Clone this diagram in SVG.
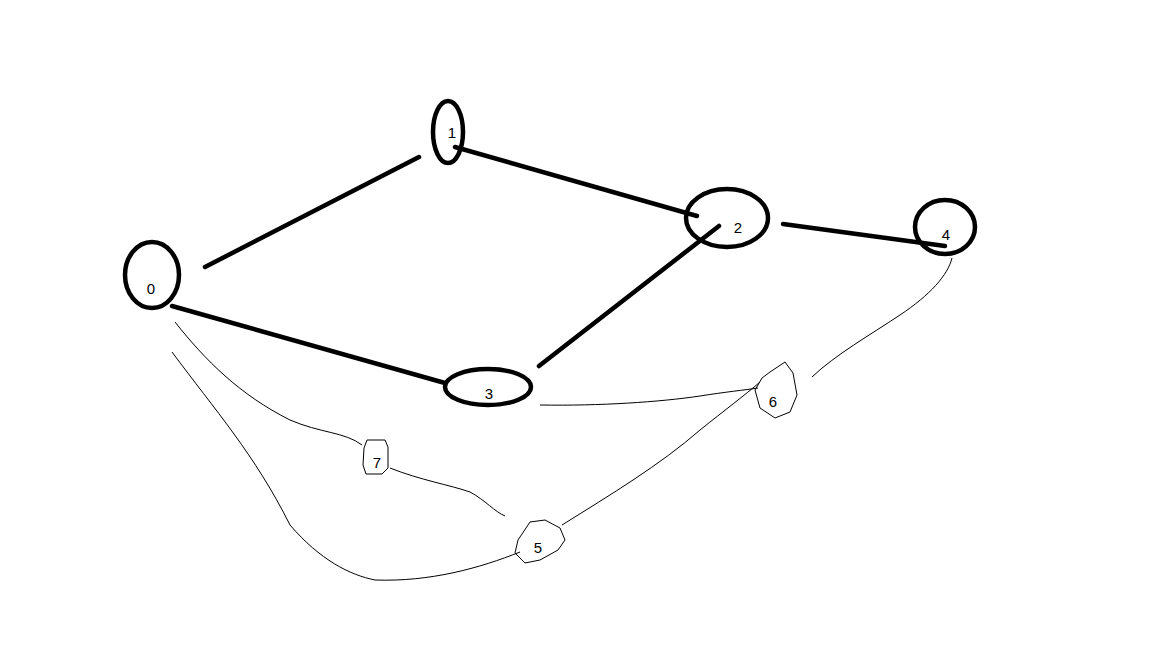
<svg xmlns="http://www.w3.org/2000/svg" width="1152" height="648" viewBox="0 0 1152 648">
<style>
.bold{fill:none;stroke:#000;stroke-width:4.5;stroke-linecap:round}
.thin{fill:none;stroke:#000;stroke-width:1;stroke-linejoin:round}
.lbl{font-family:"Liberation Sans",Arial,sans-serif;font-size:15px;fill:#000;text-anchor:middle}
</style>
<rect width="1152" height="648" fill="#fff"/>
<g id="connectors">
<line class="bold" x1="205" y1="267" x2="419" y2="157"/>
<line class="bold" x1="455" y1="147" x2="697" y2="216"/>
<line class="bold" x1="783" y1="224" x2="945" y2="246"/>
<line class="bold" x1="172" y1="306" x2="445" y2="383"/>
<line class="bold" x1="539" y1="366" x2="719" y2="226"/>
<path class="thin" d="M175 322 C205 360 240 395 290 420 C320 433 345 432 362 445"/>
<path class="thin" d="M390 468 C420 480 450 485 470 492 C485 500 495 512 505 516"/>
<path class="thin" d="M172 352 C215 410 255 455 290 525 C320 560 350 575 375 580 C430 582 480 568 520 552"/>
<path class="thin" d="M562 525 C610 495 660 465 700 430 C725 410 745 395 760 382"/>
<path class="thin" d="M540 405 C600 406 660 402 700 396 C725 392 745 390 758 388"/>
<path class="thin" d="M812 377 C835 355 870 335 900 315 C930 295 948 275 952 258"/>
</g>
<g id="n0"><ellipse class="bold" cx="152" cy="275" rx="27" ry="33"/><text class="lbl" x="151" y="294">0</text></g>
<g id="n1"><ellipse class="bold" cx="448" cy="132" rx="15" ry="31"/><text class="lbl" x="452" y="138">1</text></g>
<g id="n2"><ellipse class="bold" cx="727" cy="218" rx="41" ry="29"/><text class="lbl" x="738" y="233">2</text></g>
<g id="n3"><ellipse class="bold" cx="488" cy="387" rx="43" ry="18"/><text class="lbl" x="489" y="399">3</text></g>
<g id="n4"><ellipse class="bold" cx="945" cy="227" rx="30" ry="27"/><text class="lbl" x="946" y="240">4</text></g>
<g id="n7"><path class="thin" d="M367 440 L385 440 L388 447 L388 468 L382 474 L366 474 L363 465 L364 448 Z"/><text class="lbl" x="377" y="468">7</text></g>
<g id="n5"><path class="thin" d="M530 522 L545 520 L560 528 L565 540 L558 550 L540 560 L525 563 L515 553 L518 540 Z"/><text class="lbl" x="538" y="553">5</text></g>
<g id="n6"><path class="thin" d="M770 372 L785 362 L793 373 L797 395 L790 412 L775 418 L760 408 L755 390 L762 378 Z"/><text class="lbl" x="773" y="407">6</text></g>
</svg>
